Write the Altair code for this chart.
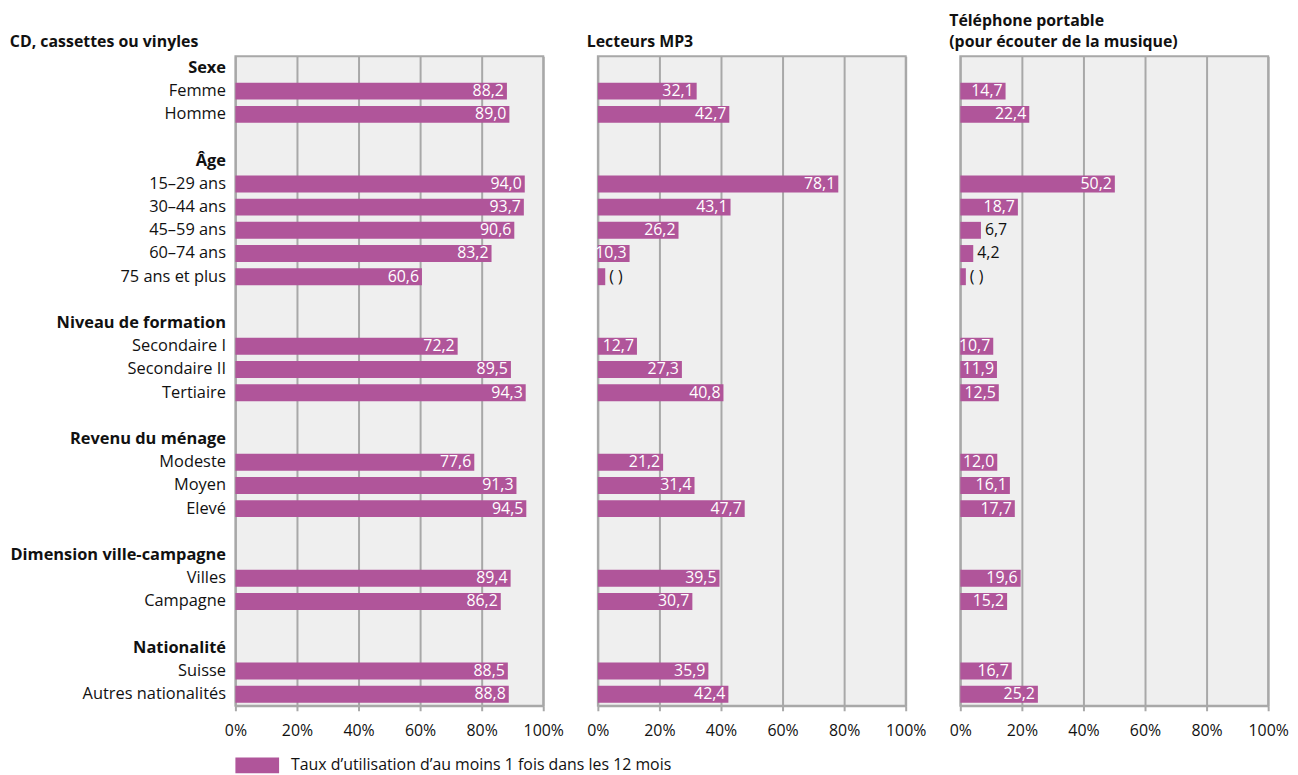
import altair as alt
import pandas as pd

categories = [
    "Sexe", "Femme", "Homme", " ",
    "Âge", "15–29 ans", "30–44 ans", "45–59 ans", "60–74 ans", "75 ans et plus", "  ",
    "Niveau de formation", "Secondaire I", "Secondaire II", "Tertiaire", "   ",
    "Revenu du ménage", "Modeste", "Moyen", "Elevé", "    ",
    "Dimension ville-campagne", "Villes", "Campagne", "     ",
    "Nationalité", "Suisse", "Autres nationalités",
]
headers = ["Sexe", "Âge", "Niveau de formation", "Revenu du ménage",
           "Dimension ville-campagne", "Nationalité"]

items = ["Femme", "Homme", "15–29 ans", "30–44 ans", "45–59 ans", "60–74 ans",
         "75 ans et plus", "Secondaire I", "Secondaire II", "Tertiaire",
         "Modeste", "Moyen", "Elevé", "Villes", "Campagne", "Suisse",
         "Autres nationalités"]

cd_values = [88.2, 89.0, 94.0, 93.7, 90.6, 83.2, 60.6, 72.2, 89.5, 94.3,
             77.6, 91.3, 94.5, 89.4, 86.2, 88.5, 88.8]
mp3_values = [32.1, 42.7, 78.1, 43.1, 26.2, 10.3, 2.4, 12.7, 27.3, 40.8,
              21.2, 31.4, 47.7, 39.5, 30.7, 35.9, 42.4]
phone_values = [14.7, 22.4, 50.2, 18.7, 6.7, 4.2, 1.8, 10.7, 11.9, 12.5,
                12.0, 16.1, 17.7, 19.6, 15.2, 16.7, 25.2]
# values not published (too few observations) are shown as "( )"
unreliable = {"mp3": ["75 ans et plus"], "phone": ["75 ans et plus"]}

titles = {
    "cd": "CD, cassettes ou vinyles",
    "mp3": "Lecteurs MP3",
    "phone": ["Téléphone portable", "(pour écouter de la musique)"],
}
series_name = "Taux d’utilisation d’au moins 1 fois dans les 12 mois"

PURPLE = "#B0559A"
GRID = "#A8A8A8"
FONT = "Open Sans"
INK = "#111111"


def make_df(key, values):
    rows = []
    for it, v in zip(items, values):
        if it in unreliable.get(key, []):
            lab = "( )"
        else:
            lab = f"{v:.1f}".replace(".", ",")
        rows.append({"cat": it, "value": v, "label": lab, "serie": series_name,
                     "inside": v >= 9})
    return pd.DataFrame(rows)


bold_expr = "indexof(" + str(headers) + ", datum.label) >= 0 ? 'bold' : 'normal'"


def panel(key, values, show_y):
    df = make_df(key, values)
    if show_y:
        yax = alt.Axis(title=None, ticks=False, domain=False, labelPadding=10,
                       labelFontSize=16.5, labelFont=FONT, labelColor=INK,
                       labelFontWeight=alt.ExprRef(expr=bold_expr), labelLimit=300,
                       minExtent=226, maxExtent=226)
    else:
        yax = None
    y = alt.Y("cat:N", sort=categories, scale=alt.Scale(domain=categories,
              paddingInner=0.27, paddingOuter=0.135), axis=yax)
    x = alt.X("value:Q", scale=alt.Scale(domain=[0, 100], nice=False),
              axis=alt.Axis(title=None, values=[0, 20, 40, 60, 80, 100],
                            labelExpr="datum.value + '%'", grid=True,
                            gridColor=GRID, gridWidth=2, tickColor=GRID,
                            tickWidth=2, tickSize=5, domainColor=GRID,
                            domainWidth=2, labelFontSize=16, labelFont=FONT,
                            labelColor=INK, labelPadding=12,
                            labelFlush=False))
    base = alt.Chart(df)
    bars = base.mark_bar().encode(
        x=x, y=y,
        color=alt.Color("serie:N", scale=alt.Scale(domain=[series_name], range=[PURPLE]),
                        legend=alt.Legend(title=None, orient="bottom", labelFontSize=16,
                                          labelFont=FONT, labelColor=INK,
                                          labelLimit=800,
                                          symbolType="M-1,-0.36H1V0.36H-1Z",
                                          symbolSize=1936, symbolStrokeWidth=0,
                                          symbolOpacity=1, labelOffset=12,
                                          offset=4)),
    )
    txt_in = base.transform_filter("datum.inside").mark_text(
        align="right", dx=-3, color="white", fontSize=16, font=FONT, baseline="middle"
    ).encode(x="value:Q", y=alt.Y("cat:N", sort=categories), text="label:N")
    txt_out = base.transform_filter("!datum.inside").mark_text(
        align="left", dx=4, color=INK, fontSize=16, font=FONT, baseline="middle"
    ).encode(x="value:Q", y=alt.Y("cat:N", sort=categories), text="label:N")
    return alt.layer(bars, txt_in, txt_out).properties(
        width=310, height=654,
        title=alt.TitleParams(text=titles[key], anchor="start", fontSize=16,
                              font=FONT, fontWeight="bold", color=INK,
                              offset=6, lineHeight=22),
    )


chart = alt.hconcat(
    panel("cd", cd_values, True),
    panel("mp3", mp3_values, False),
    panel("phone", phone_values, False),
    spacing=55,
    bounds="flush",
).configure_view(fill="#EFEFEF", stroke=GRID, strokeWidth=2).properties(
    padding={"left": 0, "right": 0, "top": 1, "bottom": 0}
)

chart.save("out.html", embed_options={"renderer": "svg", "actions": False})
